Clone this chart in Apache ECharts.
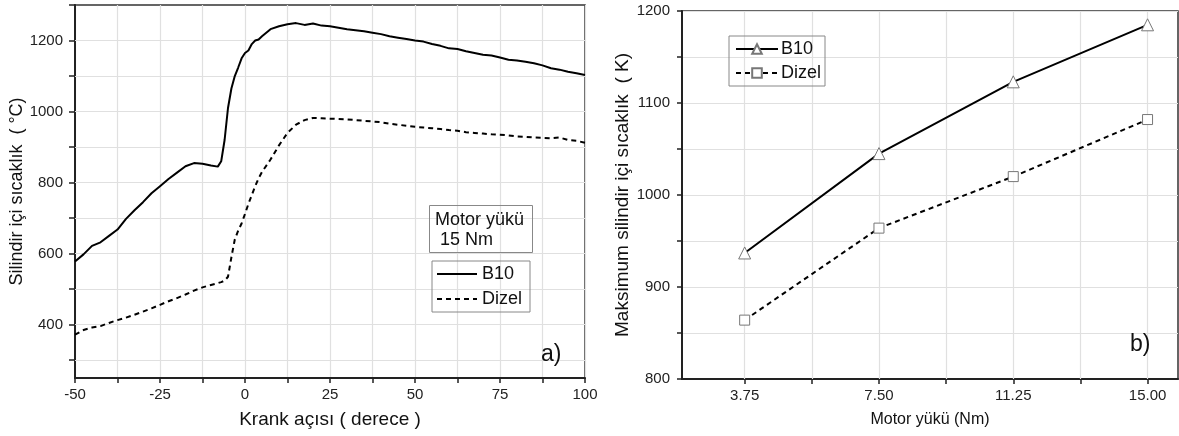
<!DOCTYPE html>
<html>
<head>
<meta charset="utf-8">
<script src="https://cdn.jsdelivr.net/npm/echarts@6/dist/echarts.min.js"></script>
<style>
  html, body { margin: 0; padding: 0; background: #fff; }
  #chart { width: 1179px; height: 436px; }
</style>
</head>
<body>
<div id="chart"></div>
<script>
// a) crank angle vs in-cylinder temperature, 15 Nm
const angles = [-50, -47.5, -45, -42.5, -40, -37.5, -35, -32.5, -30, -27.5, -25, -22.5, -20, -17.5, -15, -12.5, -10,
  -8, -7, -6, -5, -4, -3, -2, -1, 0, 1, 2, 3, 4, 5,
  7.5, 10, 12.5, 15, 17.5, 20, 22.5, 25, 27.5, 30, 32.5, 35, 37.5, 40, 42.5, 45, 47.5, 50,
  52.5, 55, 57.5, 60, 62.5, 65, 67.5, 70, 72.5, 75, 77.5, 80, 82.5, 85, 87.5, 90, 92.5, 95, 97.5, 100];
const b10Temp = [578, 598, 622, 632, 650, 668, 698, 722, 745, 770, 790, 810, 828, 846, 855, 853, 848,
  845, 860, 920, 1010, 1065, 1100, 1124, 1150, 1165, 1172, 1190, 1200, 1203, 1212,
  1232, 1240, 1246, 1249, 1244, 1248, 1242, 1240, 1236, 1232, 1229, 1226, 1222, 1218, 1212, 1208, 1204, 1200,
  1197, 1190, 1185, 1178, 1176, 1170, 1165, 1160, 1158, 1152, 1146, 1144, 1140, 1136, 1130, 1122, 1118, 1112, 1108, 1103];
const dizelTemp = [372, 385, 392, 396, 405, 413, 420, 428, 437, 446, 456, 466, 475, 485, 496, 505, 512,
  517, 520, 524, 535, 590, 640, 665, 685, 712, 740, 765, 790, 812, 830,
  865, 905, 940, 963, 976, 982, 981, 980, 979, 978, 976, 974, 972, 970, 966, 963, 960, 957,
  955, 953, 951, 948, 946, 942, 940, 938, 936, 935, 933, 930, 929, 927, 926, 925, 927, 920, 918, 912];
const leftYTickValues = [300, 400, 500, 600, 700, 800, 900, 1000, 1100, 1200, 1300];
const leftYLabelValues = [400, 600, 800, 1000, 1200];

// b) engine load vs maximum in-cylinder temperature
const loads = [3.75, 7.5, 11.25, 15];
const b10Max = [937, 1045, 1123, 1185];
const dizelMax = [864, 964, 1020, 1082];
const loadTickValues = [3.75, 5.625, 7.5, 9.375, 11.25, 13.125, 15];

const FONT = 'Liberation Sans, Arial, sans-serif';
const GRID_COLOR = '#e0e0e0';
const gridLine = { show: true, lineStyle: { color: GRID_COLOR, width: 1.2 } };
const axisLine = { show: true, onZero: false, lineStyle: { color: '#222', width: 2 } };
const tickStyle = { color: '#222', width: 1.5 };

// grid lines for axes whose ticks are custom values
function gridMarks(key, values) {
  return {
    silent: true, symbol: 'none', animation: false, z: 1,
    label: { show: false },
    emphasis: { disabled: true },
    lineStyle: { color: GRID_COLOR, width: 1.2, type: 'solid' },
    data: values.map(v => ({ [key]: v }))
  };
}

const chart = echarts.init(document.getElementById('chart'));

const option = {
  animation: false,
  textStyle: { fontFamily: FONT },
  grid: [
    { left: 75, top: 5, width: 510, height: 373, show: true, borderColor: '#333', borderWidth: 1.5 },
    { left: 682, top: 11, width: 496, height: 368, show: true, borderColor: '#333', borderWidth: 1.5 }
  ],
  title: [
    {
      text: 'Motor yükü\n 15 Nm', left: 429, top: 205, padding: [5, 9, 3, 6],
      borderColor: '#888', borderWidth: 1,
      textStyle: { fontFamily: FONT, fontWeight: 'normal', fontSize: 18, color: '#111', lineHeight: 20 }
    },
    { text: 'a)', left: 536, top: 338, textStyle: { fontFamily: FONT, fontWeight: 'normal', fontSize: 23, color: '#111' } },
    { text: 'b)', left: 1125, top: 328, textStyle: { fontFamily: FONT, fontWeight: 'normal', fontSize: 23, color: '#111' } }
  ],
  legend: [
    {
      data: ['B10 (a)', 'Dizel (a)'], orient: 'vertical', left: 432, top: 261,
      padding: [4, 8, 4, 4], itemGap: 7, itemWidth: 40, itemHeight: 14,
      borderColor: '#888', borderWidth: 1,
      itemStyle: { color: 'rgba(0,0,0,0)', borderWidth: 0, opacity: 0 },
      formatter: n => n.split(' ')[0],
      textStyle: { fontFamily: FONT, fontSize: 18, color: '#111' }
    },
    {
      data: ['B10 (b)', 'Dizel (b)'], orient: 'vertical', left: 729, top: 36,
      padding: [4, 4, 4, 6], itemGap: 6, itemWidth: 42, itemHeight: 12,
      borderColor: '#888', borderWidth: 1,
      formatter: n => n.split(' ')[0],
      textStyle: { fontFamily: FONT, fontSize: 18, color: '#111', padding: [0, 0, 0, -2] }
    }
  ],
  xAxis: [
    {
      gridIndex: 0, type: 'value', min: -50, max: 100, interval: 12.5,
      name: 'Krank açısı ( derece )', nameLocation: 'middle', nameGap: 32,
      nameTextStyle: { fontFamily: FONT, fontSize: 19, color: '#111' },
      axisLine: axisLine,
      axisTick: { show: true, length: 5, lineStyle: tickStyle },
      axisLabel: {
        fontFamily: FONT, fontSize: 15, color: '#222', margin: 9,
        formatter: v => (v % 25 === 0 ? String(v) : '')
      },
      splitLine: gridLine
    },
    {
      gridIndex: 1, type: 'value', min: 2.0, max: 15.85,
      name: 'Motor yükü (Nm)', nameLocation: 'middle', nameGap: 33,
      nameTextStyle: { fontFamily: FONT, fontSize: 16, color: '#111' },
      axisLine: axisLine,
      axisTick: { show: true, length: 5, customValues: loadTickValues, lineStyle: tickStyle },
      axisLabel: {
        fontFamily: FONT, fontSize: 15, color: '#222', margin: 9,
        customValues: loads, formatter: v => v.toFixed(2)
      },
      splitLine: { show: false }
    }
  ],
  yAxis: [
    {
      gridIndex: 0, type: 'value', min: 250, max: 1300,
      name: 'Silindir içi sıcaklık  ( °C)', nameLocation: 'middle', nameGap: 49,
      nameTextStyle: { fontFamily: FONT, fontSize: 18, color: '#111' },
      axisLine: axisLine,
      axisTick: { show: true, length: 6, customValues: leftYTickValues, lineStyle: tickStyle },
      axisLabel: {
        fontFamily: FONT, fontSize: 15, color: '#222', margin: 12,
        customValues: leftYLabelValues, formatter: v => String(v)
      },
      splitLine: { show: false }
    },
    {
      gridIndex: 1, type: 'value', min: 800, max: 1200, interval: 50,
      name: 'Maksimum silindir içi sıcaklık  ( K)', nameLocation: 'middle', nameGap: 47,
      nameTextStyle: { fontFamily: FONT, fontSize: 19, color: '#111' },
      axisLine: axisLine,
      axisTick: { show: true, length: 5, lineStyle: tickStyle },
      axisLabel: {
        fontFamily: FONT, fontSize: 15, color: '#222', margin: 12,
        formatter: v => (v % 100 === 0 ? String(v) : '')
      },
      splitLine: gridLine
    }
  ],
  series: [
    {
      name: 'B10 (a)', type: 'line', xAxisIndex: 0, yAxisIndex: 0, symbol: 'none', z: 3,
      data: angles.map((a, i) => [a, b10Temp[i]]),
      itemStyle: { color: '#000' },
      lineStyle: { color: '#000', width: 2 },
      markLine: gridMarks('yAxis', leftYTickValues.filter(v => v < 1300))
    },
    {
      name: 'Dizel (a)', type: 'line', xAxisIndex: 0, yAxisIndex: 0, symbol: 'none', z: 3,
      data: angles.map((a, i) => [a, dizelTemp[i]]),
      itemStyle: { color: '#000' },
      lineStyle: { color: '#000', width: 2, type: [5, 4] }
    },
    {
      name: 'B10 (b)', type: 'line', xAxisIndex: 1, yAxisIndex: 1,
      symbol: 'triangle', symbolSize: 12, showAllSymbol: true,
      data: loads.map((l, i) => [l, b10Max[i]]),
      itemStyle: { color: '#fff', borderColor: '#777', borderWidth: 1 },
      lineStyle: { color: '#000', width: 2 },
      z: 3,
      markLine: gridMarks('xAxis', loadTickValues)
    },
    {
      name: 'Dizel (b)', type: 'line', xAxisIndex: 1, yAxisIndex: 1,
      symbol: 'rect', symbolSize: 10, showAllSymbol: true,
      data: loads.map((l, i) => [l, dizelMax[i]]),
      itemStyle: { color: '#fff', borderColor: '#777', borderWidth: 1 },
      lineStyle: { color: '#000', width: 2, type: [5, 4] },
      z: 3
    }
  ]
};

chart.setOption(option);
</script>
</body>
</html>
